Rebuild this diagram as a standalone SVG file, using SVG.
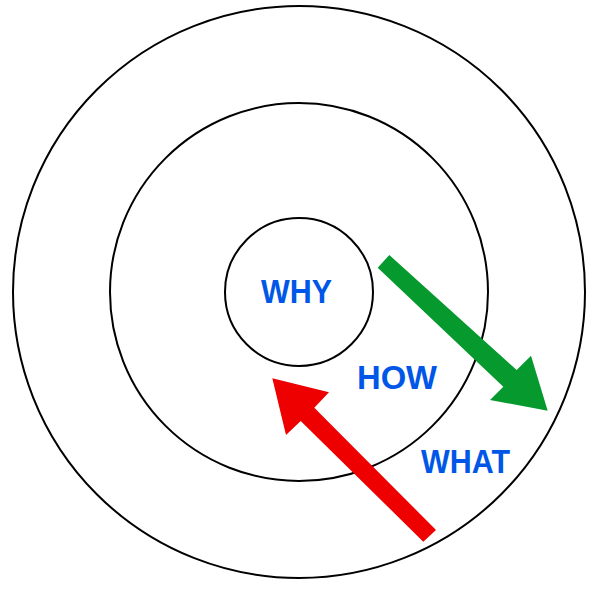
<svg xmlns="http://www.w3.org/2000/svg" width="600" height="600" viewBox="0 0 600 600">
<style>
.ring{fill:none;stroke:#000;stroke-width:2}
.lbl{font-family:"Liberation Sans",Arial,sans-serif;font-weight:bold;font-size:34px;fill:#0057e7}
</style>
<rect width="600" height="600" fill="#fff"/>
<g id="what-ring"><circle class="ring" cx="299" cy="292" r="286"/></g>
<g id="how-ring"><circle class="ring" cx="299" cy="292" r="189"/></g>
<g id="why-ring"><circle class="ring" cx="299" cy="292" r="74"/></g>
<g id="labels">
<text id="why" class="lbl" x="261" y="303" textLength="71" lengthAdjust="spacingAndGlyphs">WHY</text>
<text id="how" class="lbl" x="357" y="389" textLength="80" lengthAdjust="spacingAndGlyphs">HOW</text>
<text id="what" class="lbl" x="421" y="473" textLength="89" lengthAdjust="spacingAndGlyphs">WHAT</text>
</g>
<g id="connectors">
<polygon fill="#069a2e" points="377.7,267.7 389.3,255 516.7,370 531,355.7 547.7,410.7 490,400 503.3,386.7"/>
<polygon fill="#ee0000" points="423.3,541.7 436,530 314.3,407.7 329,392.3 272.3,378.3 286,435 300.7,421"/>
</g>
</svg>
